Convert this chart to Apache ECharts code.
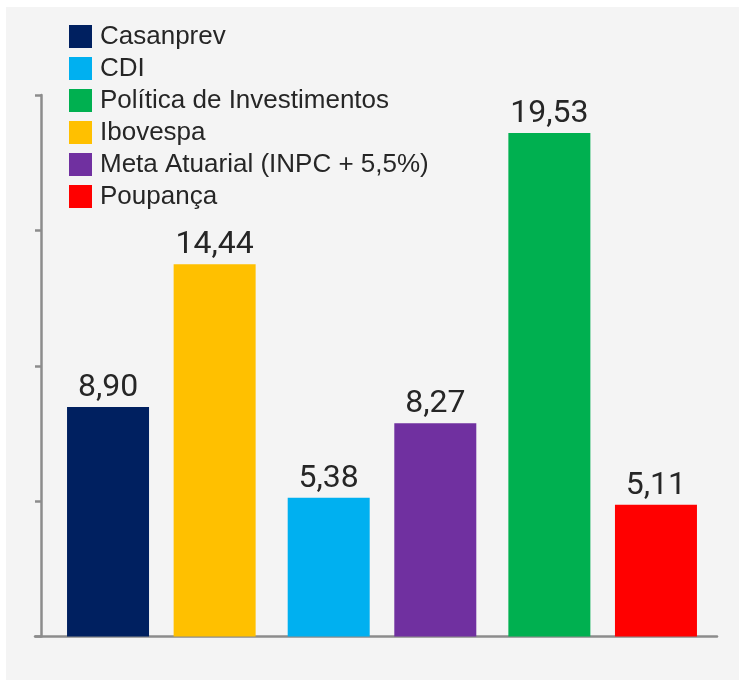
<!DOCTYPE html>
<html>
<head>
<meta charset="utf-8">
<script src="https://cdn.jsdelivr.net/npm/echarts@6/dist/echarts.min.js"></script>
<style>
  html, body { margin: 0; padding: 0; background: #fff; }
  #chart { width: 739px; height: 680px; }
</style>
</head>
<body>
<div id="chart"></div>
<script>
// dados
const categories = ['g1', 'g2', 'g3']
const seriesNames = ['Casanprev', 'CDI', 'Política de Investimentos', 'Ibovespa', 'Meta Atuarial (INPC + 5,5%)', 'Poupança']
const seriesValues = [8.90, 5.38, 19.53, 14.44, 8.27, 5.11]
const seriesGroup = [0, 1, 2, 0, 1, 2]
const seriesStack = ['a', 'a', 'a', 'b', 'b', 'b']
const seriesColors = ['#002060', '#00b0f0', '#00b050', '#ffc000', '#7030a0', '#ff0000']

const chart = echarts.init(document.getElementById('chart'))

const axisColor = '#8c8c8c'

const seriesArr = seriesNames.map((name, i) => {
  return {
    name: name,
    type: 'bar',
    xAxisIndex: 1,
    yAxisIndex: 1,
    stack: seriesStack[i],
    barWidth: 82,
    barGap: '30%',
    itemStyle: { color: seriesColors[i] },
    label: {
      show: true,
      position: 'top',
      distance: 3,
      color: '#262626',
      fontFamily: 'Roboto',
      fontSize: 32,
      formatter: p => p.value.toFixed(2).replace('.', ',')
    },
    data: categories.map((c, j) => j === seriesGroup[i] ? seriesValues[i] : '-')
  }
})

const option = {
  backgroundColor: '#ffffff',
  animation: false,
  graphic: [{
    type: 'rect',
    z: -10,
    silent: true,
    shape: { x: 6, y: 7, width: 733, height: 673 },
    style: { fill: '#f4f4f4' }
  }],
  legend: {
    orient: 'vertical',
    left: 69,
    top: 22,
    padding: 0,
    itemGap: 3,
    itemWidth: 23,
    itemHeight: 23,
    icon: 'rect',
    selectedMode: false,
    textStyle: {
      fontFamily: 'Liberation Sans',
      fontSize: 26,
      lineHeight: 26,
      color: '#262626',
      padding: [3, 0, 0, 3]
    },
    data: seriesNames
  },
  grid: [
    { left: 35, right: 22, top: 95, bottom: 43.5 },
    { left: 51, right: 26, top: 95, bottom: 43.5 }
  ],
  xAxis: [
    {
      gridIndex: 0,
      type: 'category',
      data: [''],
      axisLine: { lineStyle: { color: axisColor, width: 2.5 } },
      axisTick: { show: false },
      axisLabel: { show: false }
    },
    {
      gridIndex: 1,
      type: 'category',
      data: categories,
      show: false
    }
  ],
  yAxis: [
    {
      gridIndex: 0,
      type: 'value',
      min: 0,
      max: 21,
      interval: 5.25,
      offset: -6,
      axisLine: { show: true, lineStyle: { color: axisColor, width: 2.5 } },
      axisTick: { show: true, length: 6, lineStyle: { color: axisColor, width: 2.5 } },
      axisLabel: { show: false },
      splitLine: { show: false }
    },
    {
      gridIndex: 1,
      type: 'value',
      min: 0,
      max: 21,
      show: false,
      splitLine: { show: false }
    }
  ],
  series: seriesArr
}

chart.setOption(option)
</script>
</body>
</html>
